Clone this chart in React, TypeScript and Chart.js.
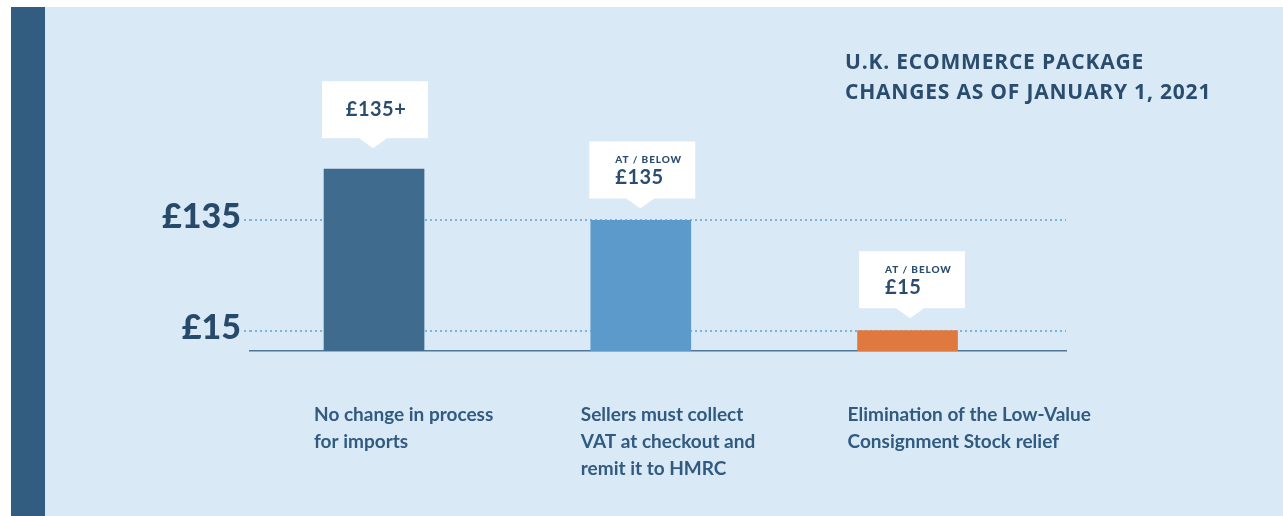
import { useEffect, useRef } from 'react';
import { Chart, registerables } from 'chart.js';

Chart.register(...registerables);

// Category captions (multi-line) shown under each bar
const categories: string[][] = [
  ['No change in process', 'for imports'],
  ['Sellers must collect', 'VAT at checkout and', 'remit it to HMRC'],
  ['Elimination of the Low-Value', 'Consignment Stock relief'],
];
// Package value threshold represented by each bar (GBP)
const packageValues = [375, 135, 15];
const barColors = ['#3f6b8f', '#5b9acb', '#e07940'];
// Threshold ticks on the value axis
const thresholdTicks = [15, 135];
// Callout texts above each bar
const calloutValues = ['£135+', '£135', '£15'];
const calloutKickers = ['', 'AT / BELOW', 'AT / BELOW'];
const titleLines = ['U.K. ECOMMERCE PACKAGE', 'CHANGES AS OF JANUARY 1, 2021'];

const W = 1272;
const H = 509;
const INK = '#2a4d6f';
const FONT = 'Lato, "Open Sans", sans-serif';
const TITLE_FONT = '"Open Sans", Lato, sans-serif';

// Callout geometry
const BOX_W = 106;
const BOX_H = 57;
const POINTER_HALF = 14;
const POINTER_DEPTH = 10;
const calloutGaps = [21, 12, 12.5];
const calloutShift = [1, 1.5, 4.5];

const calloutPlugin = {
  id: 'callouts',
  afterDatasetsDraw(chart: any) {
    const ctx: CanvasRenderingContext2D = chart.ctx;
    const meta = chart.getDatasetMeta(0);
    meta.data.forEach((bar: any, i: number) => {
      const { x, y } = bar.getProps(['x', 'y'], true);
      const cx = x + calloutShift[i];
      const tipX = cx - 2;
      const tipY = y - calloutGaps[i];
      const bottom = tipY - POINTER_DEPTH;
      const top = bottom - BOX_H;
      const left = cx - BOX_W / 2;
      ctx.save();
      ctx.fillStyle = '#ffffff';
      ctx.beginPath();
      ctx.moveTo(left, top);
      ctx.lineTo(left + BOX_W, top);
      ctx.lineTo(left + BOX_W, bottom);
      ctx.lineTo(tipX + POINTER_HALF, bottom);
      ctx.lineTo(tipX, tipY);
      ctx.lineTo(tipX - POINTER_HALF, bottom);
      ctx.lineTo(left, bottom);
      ctx.closePath();
      ctx.fill();

      ctx.fillStyle = INK;
      ctx.textBaseline = 'alphabetic';
      if (calloutKickers[i]) {
        ctx.textAlign = 'left';
        ctx.font = `900 10px ${FONT}`;
        (ctx as any).letterSpacing = '0.9px';
        ctx.fillText(calloutKickers[i], left + 26, top + 22);
        (ctx as any).letterSpacing = '0.5px';
        ctx.font = `bold 20px ${FONT}`;
        ctx.fillText(calloutValues[i], left + 26, top + 43);
      } else {
        ctx.textAlign = 'center';
        ctx.font = `bold 20px ${FONT}`;
        (ctx as any).letterSpacing = '0.5px';
        ctx.fillText(calloutValues[i], cx + 1, top + 35);
      }
      ctx.restore();
    });
  },
  afterDraw(chart: any) {
    const ctx: CanvasRenderingContext2D = chart.ctx;
    ctx.save();
    ctx.fillStyle = INK;
    ctx.textAlign = 'left';
    ctx.textBaseline = 'alphabetic';
    ctx.font = `bold 21px ${TITLE_FONT}`;
    (ctx as any).letterSpacing = '0.8px';
    titleLines.forEach((line, i) => {
      ctx.fillText(line, 834, 62.3 + i * 30);
    });
    ctx.restore();
  },
};

function PackageChart() {
  const canvasRef = useRef<HTMLCanvasElement | null>(null);

  useEffect(() => {
    const canvas = canvasRef.current;
    if (!canvas) return;
    const chart = new Chart(canvas, {
      type: 'bar',
      data: {
        datasets: [
          {
            data: packageValues.map((v, i) => ({ x: i + 1, y: v })),
            backgroundColor: barColors,
            barThickness: 100,
            borderWidth: 0,
          },
        ],
      },
      options: {
        responsive: false,
        animation: false,
        events: [],
        layout: { padding: { top: 113, right: 217, bottom: 15, left: 0 } },
        plugins: {
          legend: { display: false },
          tooltip: { enabled: false },
          title: { display: false },
        },
        scales: {
          x: {
            type: 'linear',
            offset: false,
            min: 0.535,
            max: 3.594,
            grid: { display: false, drawTicks: false, offset: false },
            border: { display: true, color: '#4f7698', width: 1.5 },
            afterBuildTicks: (scale: any) => {
              scale.ticks = categories.map((_, i) => ({ value: i + 1 }));
            },
            afterFit: (scale: any) => {
              scale.height = 150;
            },
            ticks: {
              autoSkip: false,
              maxRotation: 0,
              minRotation: 0,
              align: 'start',
              padding: 50,
              labelOffset: -60,
              color: '#305a80',
              font: { family: FONT, size: 19, weight: 'bold', lineHeight: 27 / 19 },
              callback: (value: any) => categories[Math.round(Number(value)) - 1] ?? '',
            },
          },
          y: {
            type: 'logarithmic',
            min: 10,
            max: 1000,
            grid: {
              display: true,
              color: '#7fb3dc',
              lineWidth: 2,
              drawTicks: true,
              tickLength: 6,
              tickColor: '#7fb3dc',
              tickWidth: 2,
              tickBorderDash: [2, 3],
            },
            border: { display: false, dash: [2, 3] },
            afterBuildTicks: (scale: any) => {
              scale.ticks = thresholdTicks.map((v) => ({ value: v }));
            },
            afterFit: (scale: any) => {
              scale.width = 239;
            },
            ticks: {
              padding: 3,
              labelOffset: -3,
              color: '#284a6a',
              font: { family: FONT, size: 34, weight: '900' },
              callback: (value: any) => '£' + value,
            },
          },
        },
      } as any,
      plugins: [calloutPlugin],
    });
    return () => chart.destroy();
  }, []);

  return <canvas ref={canvasRef} width={W} height={H} style={{ display: 'block' }} />;
}

export default function App() {
  return (
    <div
      style={{
        position: 'absolute',
        left: 11,
        top: 7,
        width: W,
        height: H,
        background: '#d9e9f5',
        overflow: 'hidden',
      }}
    >
      <div
        style={{
          position: 'absolute',
          left: 0,
          top: 0,
          width: 34,
          height: '100%',
          background: '#325d80',
        }}
      />
      <div style={{ position: 'absolute', left: 0, top: 0 }}>
        <PackageChart />
      </div>
    </div>
  );
}
